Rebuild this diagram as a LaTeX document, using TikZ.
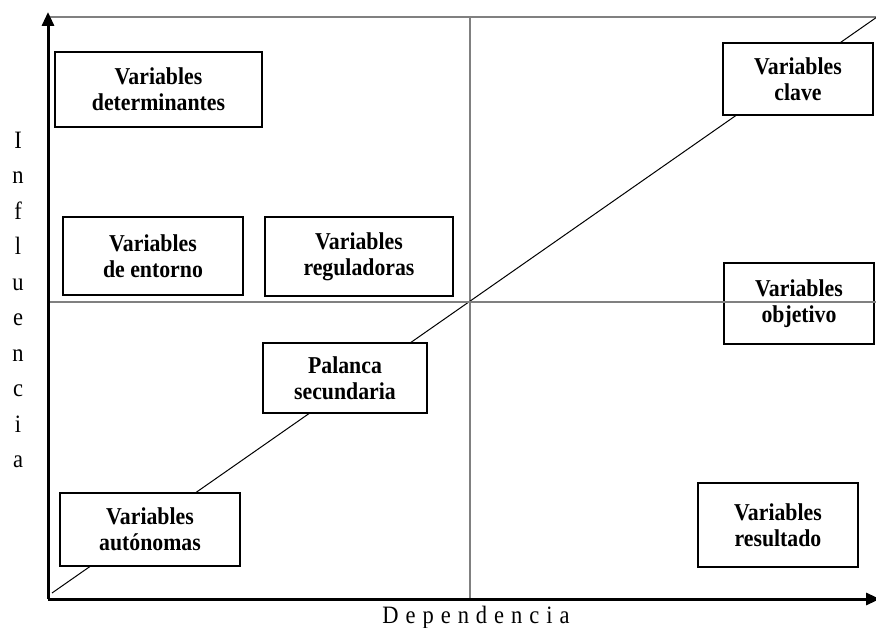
\documentclass[tikz,border=0pt]{standalone}
\usepackage{fontspec}
\setmainfont{Liberation Serif}[FakeStretch=0.9]
\usetikzlibrary{calc, positioning, arrows.meta}

\begin{document}
\begin{tikzpicture}[
    x=1pt, y=-1pt,
    >={Triangle[length=14pt, width=12pt]},
    varbox/.style={draw, rectangle, line width=2.4pt, fill=white, align=center, inner sep=0pt, font=\fontsize{24.2}{26}\selectfont\bfseries},
    axis_line/.style={line width=3pt},
    grid_line/.style={draw=gray, line width=1.5pt},
    label_font/.style={font=\fontsize{25}{28}\selectfont}
]
    \useasboundingbox (0,0) rectangle (876,628);

    % Corners of the chart
    \coordinate (origin) at (48,599);
    \coordinate (ytip) at (48,12);
    \coordinate (xtip) at (880,599);
    \coordinate (topleft) at (48,17);
    \coordinate (topright) at (876,17);
    \coordinate (center) at (470,302);
    \coordinate (diag_start) at (52,593);
    \coordinate (diag_end) at (877,17);

    % Frame and quadrant lines
    \draw[grid_line] (topleft) -- (topright);
    \draw[grid_line] (center |- topleft) -- (center |- origin);

    % Diagonal
    \draw[line width=1pt] (diag_start) -- (diag_end);

    % Variable boxes
    \node[varbox, minimum width=207pt, minimum height=75pt] (det) at (158.5,89.5) {Variables\\determinantes};
    \node[varbox, minimum width=180pt, minimum height=78pt] (ent) at (153,256) {Variables\\de entorno};
    \node[varbox, minimum width=188pt, minimum height=79pt] (reg) at (359,256.5) {Variables\\reguladoras};
    \node[varbox, minimum width=150pt, minimum height=72pt] (cla) at (798,79) {Variables\\clave};
    \node[varbox, minimum width=150pt, minimum height=81pt] (obj) at (799,303.5) {Variables\\objetivo};
    \node[varbox, minimum width=164pt, minimum height=70pt] (pal) at (345,378) {Palanca\\secundaria};
    \node[varbox, minimum width=180pt, minimum height=73pt] (aut) at (150,529.5) {Variables\\autónomas};
    \node[varbox, minimum width=160pt, minimum height=84pt] (res) at (778,525) {Variables\\resultado};

    % horizontal divider runs over the objetivo box
    \draw[grid_line] (origin |- center) -- (topright |- center);

    % Axes
    \draw[axis_line, ->] (origin) -- (ytip);
    \draw[axis_line, ->] (origin) -- (xtip);

    % Axis labels
    \node[label_font, anchor=base] (dep) at (476,623) {\addfontfeature{LetterSpace=28}Dependencia};
    \node[label_font, align=center, font=\fontsize{25}{35.5}\selectfont] (infl) at (18,300) {I\\n\\f\\l\\u\\e\\n\\c\\i\\a};

\end{tikzpicture}
\end{document}
